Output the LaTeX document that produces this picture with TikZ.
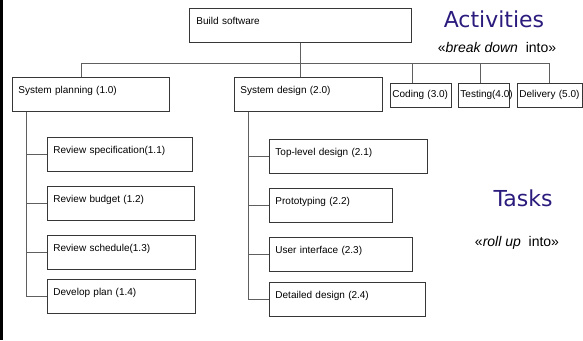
\documentclass[tikz,border=0pt]{standalone}
\usepackage{fontspec}
\setmainfont{Liberation Sans}
\newfontfamily\headfont{DejaVu Sans}
\usepackage{xcolor}
\definecolor{headblue}{RGB}{43,27,125}
\definecolor{boxline}{RGB}{55,55,55}
\definecolor{linkline}{RGB}{95,95,95}

\begin{document}
\begin{tikzpicture}%
  [x=1pt,y=-1pt,font=\fontsize{10}{12}\selectfont,
   link/.style={draw=linkline,line width=0.9pt}]
  \tikzstyle{box node}=[rectangle,draw=boxline,line width=0.9pt,anchor=north west,
    align=left,inner xsep=6pt,inner ysep=6pt,text height=9.6pt,text depth=12.4pt]
  \tikzstyle{act node}=[box node,inner xsep=2pt,inner ysep=4pt,text depth=6.4pt]
  \tikzstyle{head node}=[font=\headfont\fontsize{22}{26}\selectfont,text=headblue]
  \tikzstyle{note node}=[font=\fontsize{14}{16}\selectfont]
  \useasboundingbox (0,0) rectangle (583,340);
  \fill (0,0) rectangle (3,340);
  % activities
  \node(build)[box node,text width=208pt,inner xsep=7pt] at (189,8) {Build software};
  \node(sp)[box node,text width=145pt] at (12,77) {System planning (1.0)};
  \node(sd)[box node,text width=136pt] at (234,77) {System design (2.0)};
  \node(cod)[act node,text width=57pt] at (390,83) {\mbox{Coding (3.0)}};
  \node(tst)[act node,text width=47pt] at (458,83) {\mbox{Testing(4.0)}};
  \node(del)[act node,text width=61pt] at (517,83) {\mbox{Delivery (5.0)}};
  % tasks
  \node(rs)[box node,text width=133pt] at (47,137) {Review specification(1.1)};
  \node(rb)[box node,text width=135pt] at (47,186) {Review budget (1.2)};
  \node(rh)[box node,text width=136pt] at (47,235) {Review schedule(1.3)};
  \node(dp)[box node,text width=136pt] at (47,279) {Develop plan (1.4)};
  \node(td)[box node,text width=146pt] at (269,139) {Top-level design (2.1)};
  \node(pr)[box node,text width=111pt] at (269,188) {Prototyping (2.2)};
  \node(ui)[box node,text width=131pt] at (269,237) {User interface (2.3)};
  \node(dd)[box node,text width=144pt] at (269,282) {Detailed design (2.4)};
  % captions
  \node(act)[head node] at (494,19) {Activities};
  \node(brk)[note node] at (497,47) {«\textit{break down}\ \ into»};
  \node(tsk)[head node] at (523,198) {Tasks};
  \node(rol)[note node] at (517,243) {«\textit{roll up}\ \ into»};
  % connectors
  \coordinate(b1) at (81,63);
  \coordinate(b3) at (412,63);
  \coordinate(b4) at (480,63);
  \coordinate(b5) at (549,63);
  \draw[link] (b1) -- (b5);
  \draw[link] (build.south) -- (build.south |- sd.north);
  \foreach \b/\n in {b1/sp,b3/cod,b4/tst,b5/del}
    \draw[link] (\b) -- (\b |- \n.north);
  \coordinate(spt) at ([xshift=14pt]sp.south west);
  \coordinate(sdt) at ([xshift=14pt]sd.south west);
  \foreach \n in {rs,rb,rh,dp}
    \draw[link] (spt) |- (\n.west);
  \foreach \n in {td,pr,ui,dd}
    \draw[link] (sdt) |- (\n.west);
\end{tikzpicture}
\end{document}
